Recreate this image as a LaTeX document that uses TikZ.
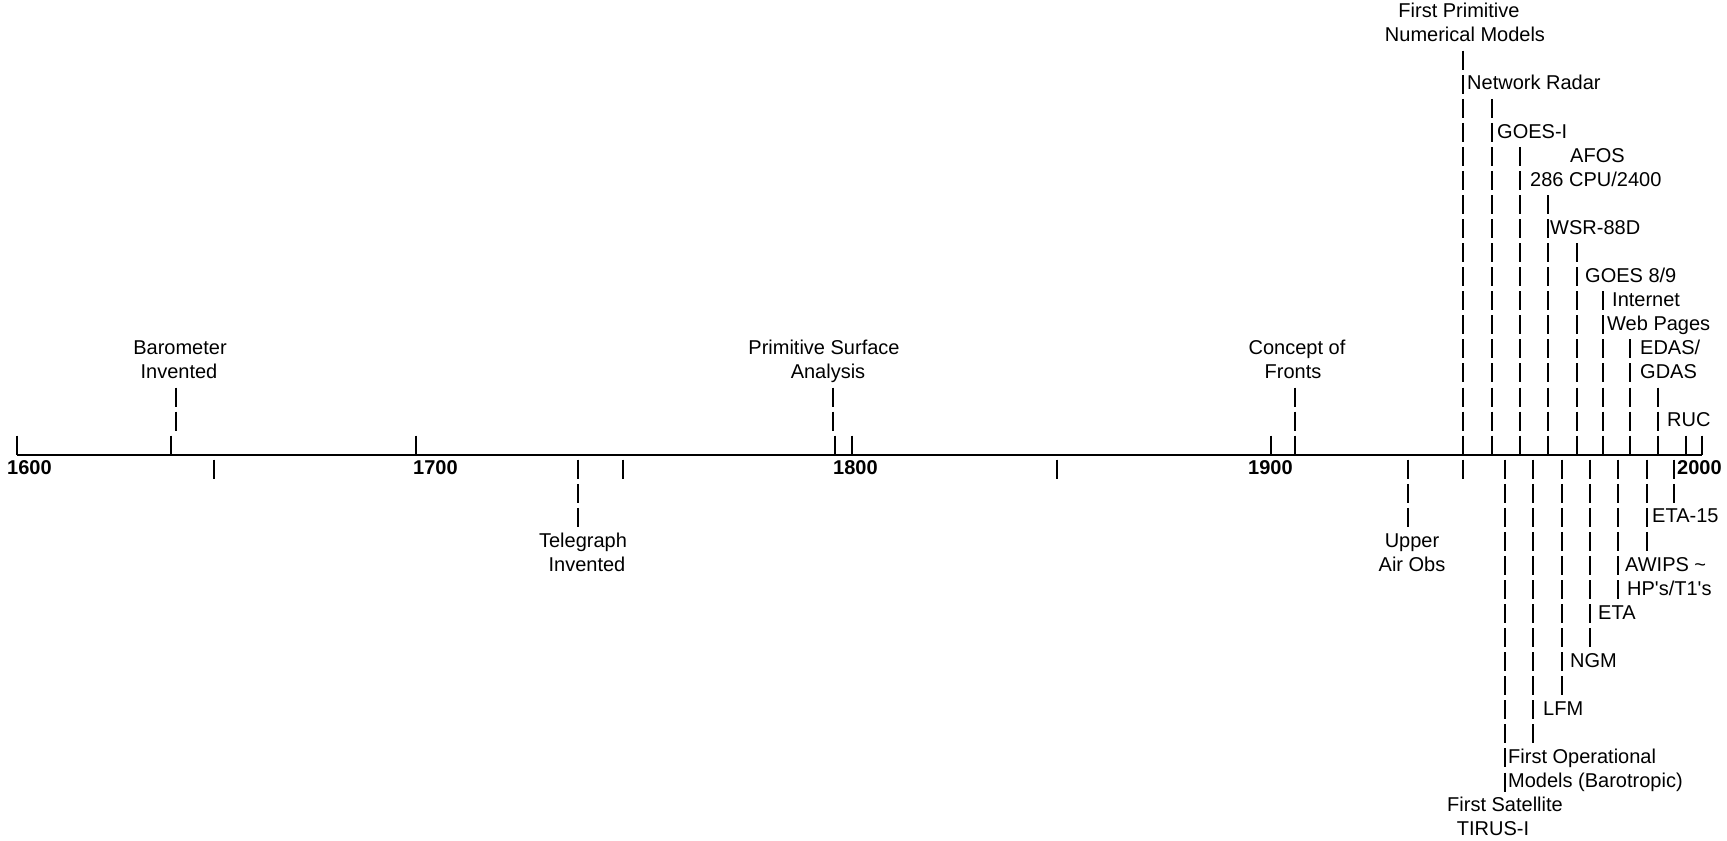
\documentclass[tikz,border=0pt]{standalone}
\usepackage{fontspec}
\setmainfont{Liberation Sans}
\usepackage{tikz}
\usetikzlibrary{positioning}
\usepackage{xcolor}
\tikzstyle{axis} = [line width=1.4pt, black]
\tikzstyle{bar} = [line width=1.5pt, black, dash pattern=on 19pt off 5.06pt]
\tikzstyle{lbl} = [inner sep=0pt, anchor=base, font=\fontsize{20}{24}\selectfont]
\tikzstyle{lblw} = [lbl, anchor=base west]
\tikzstyle{year} = [lblw, font=\fontsize{20}{24}\selectfont\bfseries]

\begin{document}
\begin{tikzpicture}[x=1pt, y=-24.06pt]
\useasboundingbox (0,-0.457) rectangle (1727,34.497);
% Time axis
\coordinate (start) at (17,18.45);
\coordinate (end) at (1702,18.45);
\draw[axis] (start) -- (end);
% Year labels
\foreach \x/\yr in {7/1600, 413/1700, 833/1800, 1248/1900, 1677/2000}
  \node[year] (y\yr) at (\x,19.28) {\yr};
% Bars above the axis (x / first row / last row)
\foreach \x/\a/\b in {17/18/18, 171/18/18, 176/16/17, 416/18/18, 833/16/17,
    835/18/18, 852/18/18, 1271/18/18, 1295/16/18,
    1463/2/18, 1492/4/18, 1520/6/18, 1548/8/18, 1577/10/18,
    1603/12/18, 1630/14/18, 1658/16/18, 1686/18/18, 1702/18/18}
  \draw[bar] (\x,\a-0.35) -- (\x,\b+0.45);
% Bars below the axis
\foreach \x/\a/\b in {214/19/19, 578/19/21, 623/19/19, 1057/19/19,
    1408/19/21, 1463/19/19, 1505/19/32, 1533/19/30, 1562/19/28,
    1590/19/26, 1618/19/24, 1647/19/22, 1674/19/20}
  \draw[bar] (\x,\a-0.35) -- (\x,\b+0.45);
% Events above the axis
\node[lbl] (baro1) at (180,14.28) {Barometer};
\node[lbl] (baro2) at (179,15.28) {Invented};
\node[lbl] (psa1) at (824,14.28) {Primitive Surface};
\node[lbl] (psa2) at (828,15.28) {Analysis};
\node[lbl] (front1) at (1297,14.28) {Concept of};
\node[lbl] (front2) at (1293,15.28) {Fronts};
\node[lbl] (nwp1) at (1459,0.28) {First Primitive};
\node[lbl] (nwp2) at (1465,1.28) {Numerical Models};
\node[lblw] (radar) at (1467,3.28) {Network Radar};
\node[lblw] (goesi) at (1497,5.28) {GOES-I};
\node[lblw] (afos1) at (1570,6.28) {AFOS};
\node[lblw] (afos2) at (1530,7.28) {286 CPU/2400};
\node[lblw] (wsr) at (1550,9.28) {WSR-88D};
\node[lblw] (goes89) at (1585,11.28) {GOES 8/9};
\node[lblw] (web1) at (1612,12.28) {Internet};
\node[lblw] (web2) at (1607,13.28) {Web Pages};
\node[lblw] (edas1) at (1640,14.28) {EDAS/};
\node[lblw] (edas2) at (1640,15.28) {GDAS};
\node[lblw] (ruc) at (1667,17.28) {RUC};
% Events below the axis
\node[lbl] (tele1) at (583,22.28) {Telegraph};
\node[lbl] (tele2) at (587,23.28) {Invented};
\node[lbl] (upper1) at (1412,22.28) {Upper};
\node[lbl] (upper2) at (1412,23.28) {Air Obs};
\node[lblw] (eta15) at (1652,21.28) {ETA-15};
\node[lblw] (awips1) at (1625,23.28) {AWIPS \textasciitilde};
\node[lblw] (awips2) at (1627,24.28) {HP\textquotesingle s/T1\textquotesingle s};
\node[lblw] (eta) at (1598,25.28) {ETA};
\node[lblw] (ngm) at (1570,27.28) {NGM};
\node[lblw] (lfm) at (1543,29.28) {LFM};
\node[lblw] (baro3) at (1508,31.28) {First Operational};
\node[lblw] (baro4) at (1508,32.28) {Models (Barotropic)};
\node[lbl] (sat1) at (1505,33.28) {First Satellite};
\node[lbl] (sat2) at (1493,34.28) {TIRUS-I};
\end{tikzpicture}
\end{document}
